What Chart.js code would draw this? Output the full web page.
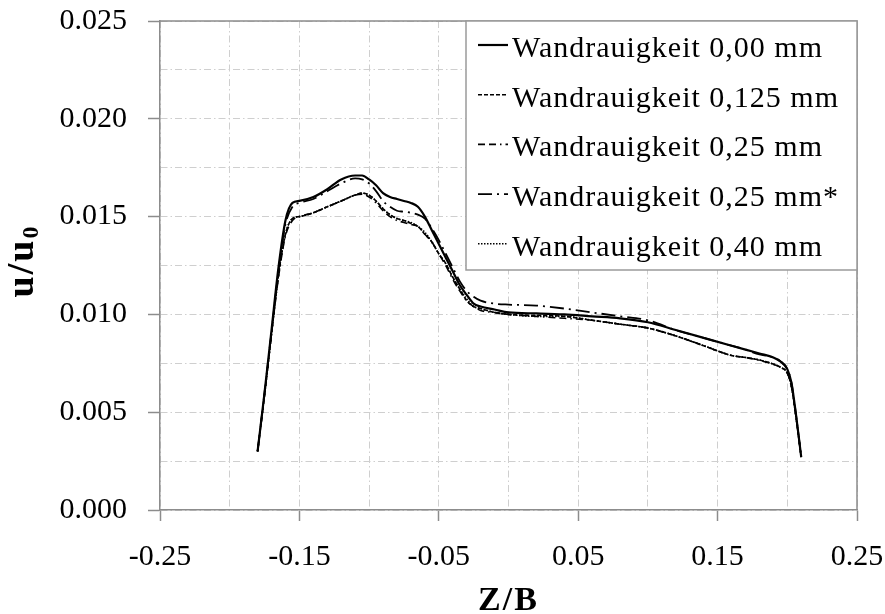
<!DOCTYPE html>
<html>
<head>
<meta charset="utf-8">
<script src="https://cdn.jsdelivr.net/npm/chart.js@4"></script>
<style>
html,body{margin:0;padding:0;background:#fff;}
#wrap{width:885px;height:614px;position:relative;}
</style>
</head>
<body>
<div id="wrap"><canvas id="c" width="885" height="614"></canvas></div>
<script>
// ---- data ----
const zValues = [-0.18, -0.175, -0.17, -0.165, -0.16, -0.155, -0.15, -0.14, -0.13, -0.12, -0.11, -0.105, -0.1, -0.095, -0.09, -0.085, -0.08, -0.075, -0.07, -0.065, -0.06, -0.055, -0.05, -0.045, -0.04, -0.035, -0.03, -0.025, -0.02, -0.01, 0, 0.02, 0.04, 0.06, 0.08, 0.1, 0.12, 0.14, 0.16, 0.17, 0.18, 0.19, 0.195, 0.2, 0.203, 0.206, 0.21];

const rough000 = [0.0030, 0.0060, 0.0092, 0.0124, 0.0148, 0.0157, 0.0158, 0.0160, 0.0164, 0.0169, 0.0171, 0.0171, 0.0169, 0.0166, 0.0162, 0.0160, 0.0159, 0.0158, 0.0157, 0.0155, 0.0150, 0.0143, 0.0136, 0.0129, 0.0122, 0.0115, 0.0110, 0.01055, 0.0104, 0.01025, 0.0101, 0.01005, 0.0100, 0.0099, 0.0098, 0.0096, 0.0092, 0.0088, 0.0084, 0.0082, 0.0080, 0.0078, 0.0076, 0.0072, 0.0065, 0.0050, 0.0027];
const rough0125 = [0.0030, 0.0059, 0.0090, 0.0120, 0.0141, 0.0149, 0.0150, 0.0152, 0.0155, 0.0158, 0.0161, 0.0162, 0.0161, 0.0158, 0.0154, 0.0151, 0.0149, 0.0148, 0.01465, 0.0145, 0.0141, 0.0137, 0.0131, 0.0126, 0.0119, 0.0113, 0.0107, 0.0104, 0.0103, 0.0101, 0.0100, 0.00995, 0.0099, 0.0097, 0.0095, 0.0093, 0.0089, 0.0084, 0.0079, 0.0078, 0.00767, 0.00746, 0.0073, 0.0070, 0.0063, 0.0049, 0.0027];
const rough025 = [0.0030, 0.0059, 0.0090, 0.0119, 0.0140, 0.0148, 0.0150, 0.0152, 0.0155, 0.0158, 0.0161, 0.01615, 0.0160, 0.0157, 0.0153, 0.0150, 0.0148, 0.0147, 0.0146, 0.0145, 0.0141, 0.0137, 0.0131, 0.0125, 0.0118, 0.0112, 0.0107, 0.0104, 0.0102, 0.0101, 0.0100, 0.0099, 0.0098, 0.0097, 0.0095, 0.0093, 0.0089, 0.0084, 0.0079, 0.0078, 0.00765, 0.00745, 0.0073, 0.0070, 0.0063, 0.0049, 0.0027];
const rough025star = [0.0030, 0.0060, 0.0091, 0.0122, 0.0146, 0.0155, 0.0157, 0.0159, 0.0163, 0.0167, 0.01695, 0.0169, 0.0167, 0.0163, 0.0158, 0.0155, 0.0153, 0.01525, 0.0152, 0.0151, 0.0149, 0.0144, 0.0138, 0.0131, 0.0124, 0.0117, 0.0112, 0.0109, 0.0107, 0.01055, 0.0105, 0.01045, 0.0103, 0.0101, 0.0099, 0.0097, 0.0092, 0.0088, 0.0084, 0.0082, 0.00795, 0.0078, 0.0076, 0.0072, 0.0065, 0.0050, 0.0027];
const rough040 = [0.0030, 0.0059, 0.0090, 0.0120, 0.0141, 0.0149, 0.0150, 0.0152, 0.0155, 0.0158, 0.0161, 0.0162, 0.0161, 0.0158, 0.0154, 0.0151, 0.0149, 0.0148, 0.0147, 0.0145, 0.0142, 0.0137, 0.0131, 0.0126, 0.0119, 0.0113, 0.0108, 0.0104, 0.0103, 0.0101, 0.0100, 0.0099, 0.0099, 0.0097, 0.0095, 0.0093, 0.0089, 0.0084, 0.0079, 0.0078, 0.00767, 0.00746, 0.0073, 0.0070, 0.0063, 0.0049, 0.0027];

const seriesLabels = ['Wandrauigkeit 0,00 mm', 'Wandrauigkeit 0,125 mm', 'Wandrauigkeit 0,25 mm', 'Wandrauigkeit 0,25 mm*', 'Wandrauigkeit 0,40 mm'];
const xTitle = 'Z/B';
const yTitleMain = 'u/u';
const yTitleSub = '0';

// ---- styles ----
const styles = [
  {width: 2.2, dash: []},
  {width: 1.6, dash: [4, 2]},
  {width: 1.6, dash: [7, 4, 7, 4, 1.5, 4]},
  {width: 1.8, dash: [14, 5, 2, 5]},
  {width: 1.6, dash: [1.5, 1.5]}
];
const seriesValues = [rough000, rough0125, rough025, rough025star, rough040];

const toPoints = vals => zValues.map((z, i) => ({x: z, y: vals[i]}));

const datasets = seriesValues.map((vals, i) => ({
  label: seriesLabels[i],
  data: toPoints(vals),
  borderColor: '#000',
  borderWidth: styles[i].width,
  borderDash: styles[i].dash,
  pointRadius: 0,
  fill: false,
  cubicInterpolationMode: 'monotone'
})).reverse();

const SERIF = '"Liberation Serif", "Times New Roman", serif';
const AXIS = '#8c8c8c';
const GRID = '#cfcfcf';

const decorPlugin = {
  id: 'decor',
  afterDraw(chart) {
    const ctx = chart.ctx;
    const a = chart.chartArea;
    ctx.save();
    // frame
    ctx.strokeStyle = AXIS;
    ctx.lineWidth = 1.5;
    ctx.setLineDash([]);
    ctx.beginPath();
    ctx.moveTo(a.left, a.top); ctx.lineTo(a.right, a.top); ctx.lineTo(a.right, a.bottom);
    ctx.stroke();
    // legend
    const bx = a.right - 391, by = a.top, bw = 391, bh = 249;
    ctx.fillStyle = '#fff';
    ctx.fillRect(bx, by, bw, bh);
    ctx.strokeStyle = '#9a9a9a';
    ctx.lineWidth = 1.5;
    ctx.strokeRect(bx, by, bw, bh);
    ctx.font = '30px ' + SERIF;
    try { ctx.letterSpacing = '1px'; } catch (e) {}
    ctx.textBaseline = 'alphabetic';
    ctx.textAlign = 'left';
    ctx.fillStyle = '#000';
    for (let i = 0; i < seriesLabels.length; i++) {
      const base = by + 36 + i * 49.7;
      const ly = base - 12;
      ctx.save();
      ctx.strokeStyle = '#000';
      ctx.lineWidth = styles[i].width;
      ctx.setLineDash(styles[i].dash);
      ctx.beginPath();
      ctx.moveTo(bx + 12, ly); ctx.lineTo(bx + 42, ly);
      ctx.stroke();
      ctx.restore();
      ctx.fillText(seriesLabels[i], bx + 46, base);
    }
    try { ctx.letterSpacing = '2px'; } catch (e) {}
    // x title
    ctx.font = 'bold 34px ' + SERIF;
    ctx.textAlign = 'center';
    ctx.textBaseline = 'alphabetic';
    ctx.fillText(xTitle, (a.left + a.right) / 2, 610);
    // y title with subscript
    ctx.translate(33, 261);
    ctx.rotate(-Math.PI / 2);
    ctx.font = 'bold 38px ' + SERIF;
    const w1 = ctx.measureText(yTitleMain).width;
    ctx.font = 'bold 24px ' + SERIF;
    const w2 = ctx.measureText(yTitleSub).width;
    const start = -(w1 + w2) / 2;
    ctx.textAlign = 'left';
    ctx.font = 'bold 38px ' + SERIF;
    ctx.fillText(yTitleMain, start, 0);
    ctx.font = 'bold 24px ' + SERIF;
    ctx.fillText(yTitleSub, start + w1, 5);
    ctx.restore();
  }
};

const isMajorX = v => Math.round(Math.abs(v) * 100) % 10 === 5;
const isMajorY = v => Math.round(v * 10000) % 50 === 0;
const zeroPad = s => { s.paddingTop = 0; s.paddingBottom = 0; s.paddingLeft = 0; s.paddingRight = 0; };

new Chart(document.getElementById('c'), {
  type: 'line',
  data: {datasets},
  options: {
    responsive: false,
    animation: false,
    layout: {padding: {top: 21, right: 28, left: 0, bottom: 0}},
    plugins: {legend: {display: false}, tooltip: {enabled: false}},
    scales: {
      x: {
        type: 'linear',
        min: -0.25, max: 0.25,
        afterFit(s) { s.height = 104; zeroPad(s); },
        ticks: {
          stepSize: 0.05,
          autoSkip: false,
          maxRotation: 0,
          padding: 18,
          color: '#000',
          font: {family: SERIF, size: 30},
          callback: v => isMajorX(v) ? v.toFixed(2) : ''
        },
        grid: {
          color: GRID,
          lineWidth: 1,
          tickLength: 11,
          tickWidth: 1.5,
          tickColor: c => (c.tick && isMajorX(c.tick.value)) ? AXIS : 'rgba(0,0,0,0)'
        },
        border: {display: true, color: AXIS, width: 1.5, dash: [7, 3, 1.5, 3]}
      },
      y: {
        type: 'linear',
        min: 0, max: 0.025,
        afterFit(s) { s.width = 160; zeroPad(s); },
        ticks: {
          stepSize: 0.0025,
          autoSkip: false,
          padding: 21,
          color: '#000',
          font: {family: SERIF, size: 30},
          callback: v => isMajorY(v) ? v.toFixed(3) : ''
        },
        grid: {
          color: GRID,
          lineWidth: 1,
          tickLength: 12,
          tickWidth: 1.5,
          tickColor: c => (c.tick && isMajorY(c.tick.value)) ? AXIS : 'rgba(0,0,0,0)'
        },
        border: {display: true, color: AXIS, width: 1.5, dash: [7, 3, 1.5, 3]}
      }
    }
  },
  plugins: [decorPlugin]
});
</script>
</body>
</html>
